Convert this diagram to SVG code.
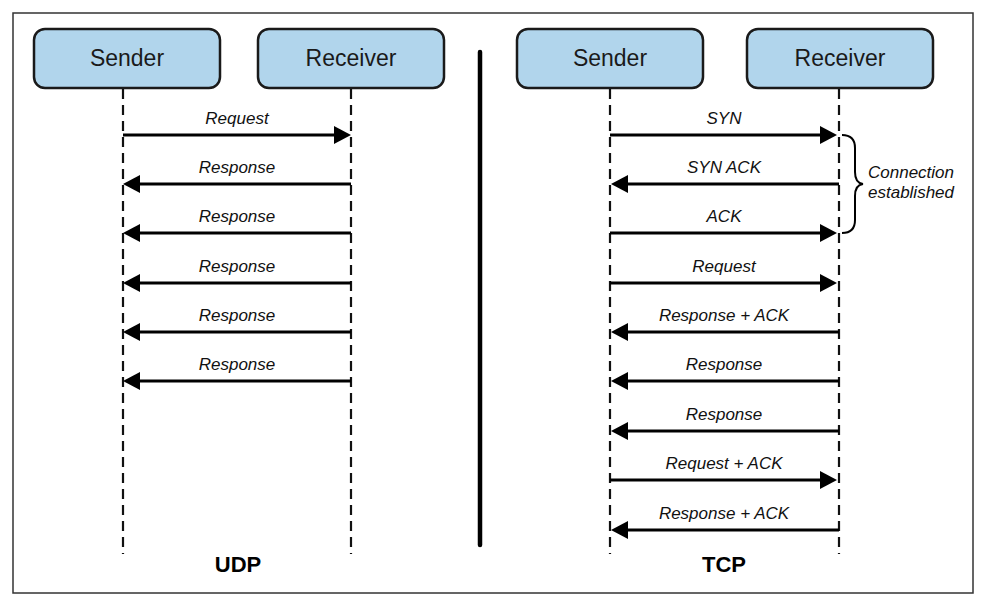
<svg xmlns="http://www.w3.org/2000/svg" width="986" height="605" viewBox="0 0 986 605">
<style>
.node rect{fill:#b1d5ec;stroke:#1a1a1a;stroke-width:2.5}
.node text{font-family:"Liberation Sans",Arial,sans-serif;font-size:23px;fill:#1a1a1a;text-anchor:middle}
.life{stroke:#111;stroke-width:2.2;stroke-dasharray:10 6;fill:none}
.msg{stroke:#000;stroke-width:3;fill:none;marker-end:url(#ah)}
.lbl{font-family:"Liberation Sans",Arial,sans-serif;font-style:italic;font-size:17px;fill:#111;text-anchor:middle}
.title{font-family:"Liberation Sans",Arial,sans-serif;font-weight:bold;font-size:22px;fill:#000;text-anchor:middle}
</style>
<defs>
<marker id="ah" viewBox="0 0 17 18" markerWidth="17" markerHeight="18" markerUnits="userSpaceOnUse" refX="5" refY="9" orient="auto">
<path d="M0,0 L17,9 L0,18 Z" fill="#000"/>
</marker>
</defs>
<rect x="0" y="0" width="986" height="605" fill="#fff"/>
<rect x="13" y="13" width="960" height="580" fill="#fff" stroke="#333" stroke-width="1.5"/>
<g id="udp-sender" class="node"><rect x="34" y="29" width="186" height="59" rx="11"/><text x="127" y="66">Sender</text></g>
<g id="udp-receiver" class="node"><rect x="258" y="29" width="186" height="59" rx="11"/><text x="351" y="66">Receiver</text></g>
<g id="tcp-sender" class="node"><rect x="517" y="29" width="186" height="59" rx="11"/><text x="610" y="66">Sender</text></g>
<g id="tcp-receiver" class="node"><rect x="747" y="29" width="186" height="59" rx="11"/><text x="840" y="66">Receiver</text></g>
<g id="lifelines">
<line class="life" x1="123" y1="89" x2="123" y2="554"/>
<line class="life" x1="351" y1="89" x2="351" y2="554"/>
<line class="life" x1="610" y1="89" x2="610" y2="554"/>
<line class="life" x1="839" y1="89" x2="839" y2="554"/>
</g>
<line id="divider" x1="480" y1="52" x2="480" y2="545" stroke="#000" stroke-width="4.5" stroke-linecap="round"/>
<g id="connectors">
<line class="msg" x1="123" y1="135" x2="339" y2="135"/>
<line class="msg" x1="351" y1="184" x2="135" y2="184"/>
<line class="msg" x1="351" y1="233" x2="135" y2="233"/>
<line class="msg" x1="351" y1="283" x2="135" y2="283"/>
<line class="msg" x1="351" y1="332" x2="135" y2="332"/>
<line class="msg" x1="351" y1="381" x2="135" y2="381"/>

<line class="msg" x1="610" y1="135" x2="825" y2="135"/>
<line class="msg" x1="839" y1="184" x2="623" y2="184"/>
<line class="msg" x1="610" y1="233" x2="825" y2="233"/>
<line class="msg" x1="610" y1="283" x2="825" y2="283"/>
<line class="msg" x1="839" y1="332" x2="623" y2="332"/>
<line class="msg" x1="839" y1="381" x2="623" y2="381"/>
<line class="msg" x1="839" y1="431" x2="623" y2="431"/>
<line class="msg" x1="610" y1="480" x2="825" y2="480"/>
<line class="msg" x1="839" y1="530" x2="623" y2="530"/>
</g>
<g id="labels">
<text class="lbl" x="237" y="124">Request</text>
<text class="lbl" x="237" y="173">Response</text>
<text class="lbl" x="237" y="222">Response</text>
<text class="lbl" x="237" y="272">Response</text>
<text class="lbl" x="237" y="321">Response</text>
<text class="lbl" x="237" y="370">Response</text>

<text class="lbl" x="724" y="124">SYN</text>
<text class="lbl" x="724" y="173">SYN ACK</text>
<text class="lbl" x="724" y="222">ACK</text>
<text class="lbl" x="724" y="272">Request</text>
<text class="lbl" x="724" y="321">Response + ACK</text>
<text class="lbl" x="724" y="370">Response</text>
<text class="lbl" x="724" y="420">Response</text>
<text class="lbl" x="724" y="469">Request + ACK</text>
<text class="lbl" x="724" y="519">Response + ACK</text>
</g>
<g id="brace">
<path d="M842,135 Q855,135 855,148 L855,172 Q855,183 863,184 Q855,185 855,196 L855,220 Q855,233 842,233" fill="none" stroke="#000" stroke-width="2"/>
<text class="lbl" x="868" y="178" style="text-anchor:start">Connection</text>
<text class="lbl" x="868" y="198" style="text-anchor:start">established</text>
</g>
<text class="title" x="238" y="572">UDP</text>
<text class="title" x="724" y="572">TCP</text>
</svg>
